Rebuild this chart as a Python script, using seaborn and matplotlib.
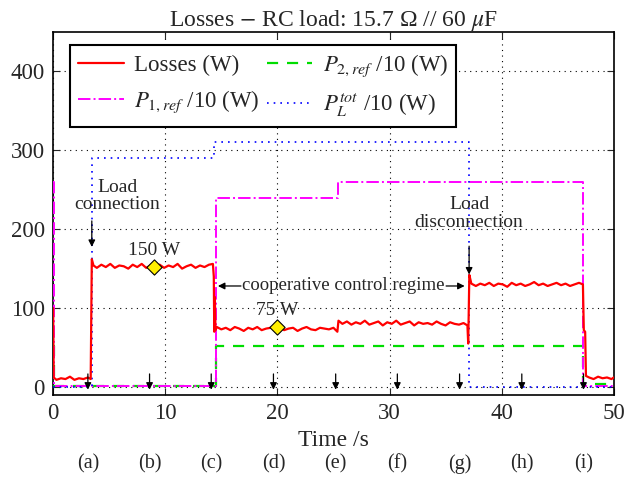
import numpy as np
import pandas as pd
import matplotlib
matplotlib.use("Agg")
import matplotlib.pyplot as plt
import seaborn as sns

# ---------------- data ----------------
loss_time = [0.0, 0.05, 0.3, 0.7, 1.1, 1.5, 1.9, 2.3, 2.7, 3.1, 3.35,
             3.45, 3.6, 3.9, 4.3, 4.7, 5.1, 5.5, 5.9, 6.3, 6.7, 7.1, 7.5, 7.9,
             8.3, 8.7, 9.1, 9.5, 9.9, 10.3, 10.7, 11.1, 11.5, 11.9, 12.3, 12.7,
             13.1, 13.5, 13.9, 14.25, 14.33, 14.37, 14.42, 14.48, 14.6,
             15.0, 15.4, 15.8, 16.2, 16.6, 17.0, 17.4, 17.8, 18.2, 18.6, 19.0,
             19.4, 19.8, 20.2, 20.6, 21.0, 21.4, 21.8, 22.2, 22.6, 23.0, 23.4,
             23.8, 24.2, 24.6, 25.0, 25.35, 25.45, 25.8, 26.2, 26.6, 27.0,
             27.4, 27.8, 28.2, 28.6, 29.0, 29.4, 29.8, 30.2, 30.6, 31.0, 31.4,
             31.8, 32.2, 32.6, 33.0, 33.4, 33.8, 34.2, 34.6, 35.0, 35.4, 35.8,
             36.2, 36.6, 36.95, 37.02, 37.12, 37.3, 37.7, 38.1, 38.5, 38.9,
             39.3, 39.7, 40.1, 40.5, 40.9, 41.3, 41.7, 42.1, 42.5, 42.9, 43.3,
             43.7, 44.1, 44.5, 44.9, 45.3, 45.7, 46.1, 46.5, 46.9, 47.25,
             47.33, 47.45, 47.52, 47.8, 48.2, 48.6, 49.0, 49.4, 49.8, 50.0]
loss_watts = [100, 12, 9, 11, 10, 13, 9, 11, 10, 12, 10,
              162, 154, 151, 155, 152, 156, 151, 154, 153, 150, 155, 152, 156,
              151, 154, 153, 155, 151, 154, 152, 156, 150, 153, 155, 151,
              154, 152, 155, 156, 140, 70, 114, 72, 76,
              73, 75, 72, 76, 74, 71, 75, 73, 76, 72, 74,
              75, 73, 76, 72, 74, 75, 71, 74, 76, 73, 72,
              75, 74, 73, 75, 70, 84, 80, 83, 79, 82,
              80, 84, 79, 81, 83, 78, 82, 80, 84, 79, 81,
              83, 78, 82, 80, 81, 79, 83, 80, 78, 82, 80,
              79, 81, 78, 55, 142, 131, 128, 131, 129, 132,
              128, 131, 130, 127, 132, 129, 131, 128, 130, 133, 129,
              131, 128, 130, 132, 129, 131, 128, 130, 132, 130,
              72, 70, 14, 12, 10, 13, 11, 12, 10, 12]

p1_time = [0.0, 0.05, 14.5, 25.4, 47.3, 50.0]
p1_div10 = [260, 1, 240, 260, 1, 1]

p2_time = [0.0, 0.05, 14.5, 47.3, 50.0]
p2_div10 = [52, 1, 52, 4, 4]

pl_time = [0.0, 3.45, 14.35, 37.1, 50.0]
pl_div10 = [0, 290, 310, 0, 0]

snap_times = [3.1, 8.6, 14.1, 19.65, 25.2, 30.7, 36.25, 41.8, 47.3]
snap_labels = ["(a)", "(b)", "(c)", "(d)", "(e)", "(f)", "(g)", "(h)", "(i)"]

marker_time = [9.0, 20.0]
marker_watts = [152, 76]
marker_text = ["150 W", "75 W"]

x_ticks = [0, 10, 20, 30, 40, 50]
y_ticks = [0, 100, 200, 300, 400]

# ---------------- style ----------------
sns.set_style("ticks")
plt.rcParams["font.family"] = ["Liberation Serif", "DejaVu Serif"]
plt.rcParams["mathtext.fontset"] = "stix"

fig = plt.figure(figsize=(6.25, 4.78), dpi=100)
ax = fig.add_axes([0.085, 0.174, 0.897, 0.759])

loss_df = pd.DataFrame({"t": loss_time, "v": loss_watts})
p1_df = pd.DataFrame({"t": p1_time, "v": p1_div10})
p2_df = pd.DataFrame({"t": p2_time, "v": p2_div10})
pl_df = pd.DataFrame({"t": pl_time, "v": pl_div10})

sns.lineplot(data=p2_df, x="t", y="v", ax=ax, estimator=None, sort=False,
             drawstyle="steps-post", color="#00dd00", linestyle=(0, (5, 4)),
             linewidth=1.6, zorder=3)
sns.lineplot(data=p1_df, x="t", y="v", ax=ax, estimator=None, sort=False,
             drawstyle="steps-post", color="#ff00ff", linestyle="-.",
             linewidth=1.4, zorder=3)
sns.lineplot(data=pl_df, x="t", y="v", ax=ax, estimator=None, sort=False,
             drawstyle="steps-post", color="#0000ff", linestyle=(0, (1, 3)),
             linewidth=1.2, zorder=3)
sns.lineplot(data=loss_df, x="t", y="v", ax=ax, estimator=None, sort=False,
             color="#ff0000", linewidth=1.6, zorder=4)
p2_line, p1_line, pl_line, loss_line = ax.lines[:4]

ax.scatter(marker_time, marker_watts, marker="D", s=60, color="#ffee00",
           edgecolor="black", linewidth=0.8, zorder=6)
for t, w, txt in zip(marker_time, marker_watts, marker_text):
    ax.text(t, w + 21, txt, ha="center", va="center", fontsize=14, zorder=7)

# bottom time-instant arrows and labels
for t, lab in zip(snap_times, snap_labels):
    ax.annotate("", xy=(t, -7), xytext=(t, 20),
                arrowprops=dict(arrowstyle="-|>", color="black", lw=0.9,
                                mutation_scale=10), zorder=7)
    ax.text(t, -0.19, lab, transform=ax.get_xaxis_transform(),
            ha="center", va="center", fontsize=14.5)

# annotations
arrow_kw = dict(arrowstyle="-|>", color="black", lw=0.9, mutation_scale=10)
ax.text(5.7, 242, "Load\nconnection", ha="center", va="center",
        fontsize=14, linespacing=1.05, zorder=7)
ax.annotate("", xy=(3.45, 174), xytext=(3.45, 214), arrowprops=arrow_kw)
ax.text(37.1, 220, "Load\ndisconnection", ha="center", va="center",
        fontsize=14, linespacing=1.05, zorder=7)
ax.annotate("", xy=(37.1, 139), xytext=(37.1, 182), arrowprops=arrow_kw)
ax.text(25.9, 128, "cooperative control regime", ha="center", va="center",
        fontsize=13.5, zorder=7)
ax.annotate("", xy=(14.45, 128), xytext=(17.0, 128), arrowprops=arrow_kw)
ax.annotate("", xy=(36.95, 128), xytext=(34.8, 128), arrowprops=arrow_kw)

# axes
ax.set_xlim(0, 50)
ax.set_ylim(-10, 450)
ax.set_xticks(x_ticks)
ax.set_yticks(y_ticks)
ax.tick_params(direction="in", top=True, right=True, length=5, width=0.8,
               labelsize=16.5, pad=6)
ax.grid(True, linestyle=(0, (1, 4)), color="black", linewidth=0.8)
for s in ax.spines.values():
    s.set_linewidth(1.2)
    s.set_color("black")
ax.set_xlabel("Time /s", fontsize=17, labelpad=4)
ax.set_ylabel("")
ax.set_title(r"Losses $-$ RC load: 15.7 Ω // 60 $\mu$F", fontsize=17, pad=4)

leg = ax.legend([loss_line, p1_line, p2_line, pl_line],
                ["Losses (W)",
                 r"$P_{\mathit{1,ref}}$ /10 (W)",
                 r"$P_{\mathit{2,ref}}$ /10 (W)",
                 r"$P_{L}^{\mathit{tot}}$ /10 (W)"],
                ncol=2, loc="upper left", bbox_to_anchor=(0.03, 0.965),
                borderaxespad=0, fontsize=16.5, fancybox=False, framealpha=1,
                edgecolor="black", handlelength=2.0, columnspacing=0.3,
                handletextpad=0.45, labelspacing=0.55, borderpad=0.35)
leg.get_frame().set_linewidth(1.5)
leg.set_zorder(10)

fig.savefig("out.png", dpi=100)
